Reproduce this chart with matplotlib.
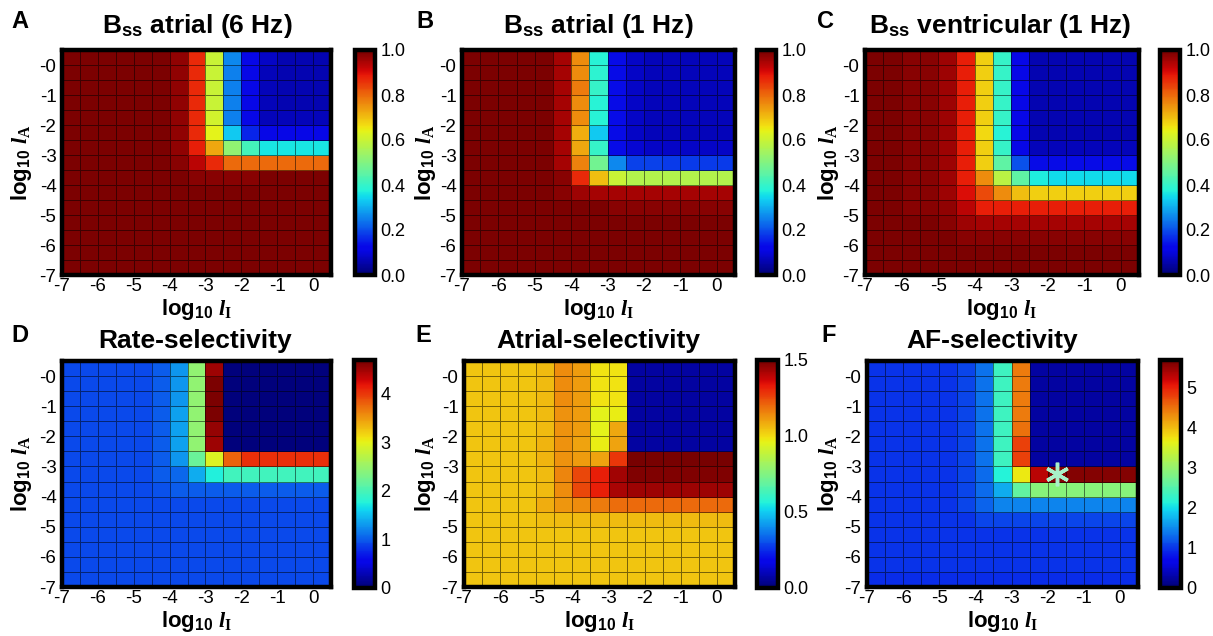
import numpy as np
import matplotlib.pyplot as plt
from matplotlib.colors import ListedColormap

plt.rcParams['font.family'] = ['Liberation Sans', 'DejaVu Sans']
plt.rcParams['mathtext.fontset'] = 'custom'
plt.rcParams['mathtext.bf'] = 'Liberation Sans:bold'
plt.rcParams['mathtext.it'] = 'Liberation Serif:italic:bold'
plt.rcParams['mathtext.rm'] = 'Liberation Serif:bold'

W, H = 1213, 636

# cell edges: log10 lI (x) and log10 lA (y)
x_edges = np.arange(-7, 0.51, 0.5)
y_edges = np.arange(-7, 0.51, 0.5)
x_ticks = [-7, -6, -5, -4, -3, -2, -1, 0]
x_ticklabels = ['-7', '-6', '-5', '-4', '-3', '-2', '-1', '0']
y_ticks = [0, -1, -2, -3, -4, -5, -6, -7]
y_ticklabels = ['-0', '-1', '-2', '-3', '-4', '-5', '-6', '-7']

# each matrix: rows from top (log10 lA = 0.5) to bottom (-7), columns from -7 to 0.5
bss_atrial_6hz = [
    [.99, .99, .99, .99, .99, .99, .97, .87, .60, .26, .12, .08, .06, .06, .06],
    [.99, .99, .99, .99, .99, .99, .97, .87, .60, .25, .12, .07, .06, .06, .06],
    [.99, .99, .99, .99, .99, .99, .97, .87, .60, .25, .12, .07, .06, .06, .06],
    [.99, .99, .99, .99, .99, .99, .97, .87, .60, .25, .12, .07, .06, .06, .06],
    [.99, .99, .99, .99, .99, .99, .97, .87, .61, .25, .12, .07, .07, .07, .07],
    [.99, .99, .99, .99, .99, .99, .97, .87, .64, .33, .16, .12, .12, .12, .12],
    [.99, .99, .99, .99, .99, .99, .97, .88, .73, .52, .42, .36, .36, .36, .36],
    [.99, .99, .99, .99, .99, .99, .98, .93, .87, .80, .80, .80, .80, .80, .80],
    [.99, .99, .99, .99, .99, .99, .99, .98, .98, .98, .98, .99, .99, .99, .99],
    [.99, .99, .99, .99, .99, .99, .99, .99, .99, .99, .99, .99, .99, .99, .99],
    [.99, .99, .99, .99, .99, .99, .99, .99, .99, .99, .99, .99, .99, .99, .99],
    [.99, .99, .99, .99, .99, .99, .99, .99, .99, .99, .99, .99, .99, .99, .99],
    [.99, .99, .99, .99, .99, .99, .99, .99, .99, .99, .99, .99, .99, .99, .99],
    [.99, .99, .99, .99, .99, .99, .99, .99, .99, .99, .99, .99, .99, .99, .99],
    [.99, .99, .99, .99, .99, .99, .99, .99, .99, .99, .99, .99, .99, .99, .99],
]

bss_atrial_1hz = [
    [.99, .99, .99, .99, .99, .95, .76, .38, .13, .08, .07, .07, .07, .07, .07],
    [.99, .99, .99, .99, .99, .95, .76, .39, .13, .08, .07, .07, .07, .07, .07],
    [.99, .99, .99, .99, .99, .95, .78, .40, .13, .08, .07, .07, .07, .07, .07],
    [.99, .99, .99, .99, .99, .95, .76, .38, .13, .08, .07, .07, .07, .07, .07],
    [.99, .99, .99, .99, .99, .95, .76, .38, .13, .08, .07, .07, .07, .07, .07],
    [.99, .99, .99, .99, .99, .95, .72, .33, .13, .08, .07, .07, .07, .07, .07],
    [.99, .99, .99, .99, .99, .95, .73, .40, .13, .09, .08, .08, .08, .08, .08],
    [.99, .99, .99, .99, .99, .95, .77, .48, .26, .19, .19, .18, .18, .18, .18],
    [.99, .99, .99, .99, .99, .98, .87, .70, .60, .57, .57, .57, .57, .57, .57],
    [.99, .99, .99, .99, .99, .98, .96, .95, .95, .95, .95, .95, .95, .95, .95],
    [.99, .99, .99, .99, .99, .99, .99, .99, .98, .98, .98, .98, .98, .98, .98],
    [.99, .99, .99, .99, .99, .99, .99, .99, .99, .99, .99, .99, .99, .99, .99],
    [.99, .99, .99, .99, .99, .99, .99, .99, .99, .99, .99, .99, .99, .99, .99],
    [.99, .99, .99, .99, .99, .99, .99, .99, .99, .99, .99, .99, .99, .99, .99],
    [.99, .99, .99, .99, .99, .99, .99, .99, .99, .99, .99, .99, .99, .99, .99],
]

bss_ventricular_1hz = [
    [.99, .99, .98, .98, .96, .88, .68, .40, .12, .06, .06, .06, .06, .06, .06],
    [.99, .99, .98, .98, .96, .88, .68, .40, .12, .06, .06, .06, .06, .06, .06],
    [.99, .99, .98, .98, .96, .88, .68, .40, .12, .06, .06, .06, .06, .06, .06],
    [.99, .99, .98, .98, .96, .88, .68, .40, .12, .06, .06, .06, .06, .06, .06],
    [.99, .99, .98, .98, .96, .88, .68, .40, .12, .06, .06, .06, .06, .06, .06],
    [.99, .99, .98, .98, .96, .88, .67, .38, .12, .06, .06, .06, .06, .06, .06],
    [.99, .99, .98, .98, .96, .88, .68, .40, .12, .07, .07, .07, .07, .07, .07],
    [.99, .99, .98, .98, .96, .88, .68, .45, .20, .13, .13, .13, .13, .13, .13],
    [.99, .99, .98, .98, .96, .88, .76, .58, .45, .37, .35, .35, .35, .35, .35],
    [.99, .99, .98, .98, .96, .90, .83, .76, .70, .68, .68, .68, .68, .68, .68],
    [.99, .99, .98, .98, .97, .93, .88, .88, .88, .88, .88, .88, .88, .88, .88],
    [.99, .99, .99, .99, .98, .96, .95, .95, .95, .95, .95, .95, .95, .95, .95],
    [.99, .99, .99, .99, .99, .98, .98, .98, .98, .98, .98, .98, .98, .98, .98],
    [.99, .99, .99, .99, .99, .99, .99, .99, .99, .99, .99, .99, .99, .99, .99],
    [.99, .99, .99, .99, .99, .99, .99, .99, .99, .99, .99, .99, .99, .99, .99],
]

rate_selectivity = [
    [.93, .93, .93, .93, .93, 1.0, 1.3, 2.45, 4.5, .05, .05, .05, .05, .05, .05],
    [.93, .93, .93, .93, .93, 1.0, 1.3, 2.45, 4.65, .05, .05, .05, .05, .05, .05],
    [.93, .93, .93, .93, .93, 1.0, 1.3, 2.45, 4.65, .05, .05, .05, .05, .05, .05],
    [.93, .93, .93, .93, .93, 1.0, 1.35, 2.45, 4.65, .05, .05, .05, .05, .05, .05],
    [.93, .93, .93, .93, .93, 1.0, 1.35, 2.45, 4.55, .05, .05, .05, .05, .05, .05],
    [.93, .93, .93, .93, .93, 1.0, 1.35, 2.45, 4.5, .05, .05, .05, .05, .05, .05],
    [.93, .93, .93, .93, .93, 1.0, 1.3, 2.2, 2.95, 3.8, 4.05, 4.05, 4.05, 4.05, 4.05],
    [.93, .93, .93, .93, .93, 1.0, 1.05, 1.4, 1.75, 1.95, 1.95, 1.95, 1.95, 1.95, 1.95],
    [.93, .93, .93, .93, .93, .95, 1.0, 1.0, 1.0, 1.0, 1.0, 1.0, 1.0, 1.0, 1.0],
    [.93, .93, .93, .93, .93, .93, .93, .93, .93, .93, .93, .93, .93, .93, .93],
    [.93, .93, .93, .93, .93, .93, .93, .93, .93, .93, .93, .93, .93, .93, .93],
    [.93, .93, .93, .93, .93, .93, .93, .93, .93, .93, .93, .93, .93, .93, .93],
    [.93, .93, .93, .93, .93, .93, .93, .93, .93, .93, .93, .93, .93, .93, .93],
    [.93, .93, .93, .93, .93, .93, .93, .93, .93, .93, .93, .93, .93, .93, .93],
    [.93, .93, .93, .93, .93, .93, .93, .93, .93, .93, .93, .93, .93, .93, .93],
]

atrial_selectivity = [
    [1.04, 1.04, 1.04, 1.04, 1.06, 1.14, 1.11, .99, .99, .07, .07, .07, .07, .07, .07],
    [1.04, 1.04, 1.04, 1.04, 1.06, 1.14, 1.11, .99, .99, .07, .07, .07, .07, .07, .07],
    [1.04, 1.04, 1.04, 1.04, 1.06, 1.14, 1.11, .99, .99, .07, .07, .07, .07, .07, .07],
    [1.04, 1.04, 1.04, 1.04, 1.06, 1.13, 1.11, .96, .97, .07, .07, .07, .07, .07, .07],
    [1.04, 1.04, 1.04, 1.04, 1.06, 1.13, 1.11, .96, 1.09, .07, .07, .07, .07, .07, .07],
    [1.04, 1.04, 1.04, 1.04, 1.07, 1.13, 1.10, .97, 1.10, .07, .07, .07, .07, .07, .07],
    [1.04, 1.04, 1.04, 1.04, 1.07, 1.13, 1.11, 1.10, 1.28, 1.49, 1.49, 1.49, 1.49, 1.49, 1.49],
    [1.04, 1.04, 1.04, 1.04, 1.06, 1.15, 1.25, 1.32, 1.43, 1.48, 1.48, 1.48, 1.48, 1.48, 1.48],
    [1.04, 1.04, 1.04, 1.04, 1.06, 1.14, 1.25, 1.32, 1.42, 1.44, 1.44, 1.44, 1.44, 1.44, 1.44],
    [1.04, 1.04, 1.04, 1.04, 1.08, 1.12, 1.14, 1.17, 1.19, 1.20, 1.20, 1.20, 1.20, 1.20, 1.20],
    [1.04, 1.04, 1.04, 1.04, 1.05, 1.06, 1.06, 1.06, 1.06, 1.06, 1.06, 1.06, 1.06, 1.06, 1.06],
    [1.04, 1.04, 1.04, 1.04, 1.04, 1.04, 1.04, 1.04, 1.04, 1.04, 1.04, 1.04, 1.04, 1.04, 1.04],
    [1.04, 1.04, 1.04, 1.04, 1.04, 1.04, 1.04, 1.04, 1.04, 1.04, 1.04, 1.04, 1.04, 1.04, 1.04],
    [1.04, 1.04, 1.04, 1.04, 1.04, 1.04, 1.04, 1.04, 1.04, 1.04, 1.04, 1.04, 1.04, 1.04, 1.04],
    [1.04, 1.04, 1.04, 1.04, 1.04, 1.04, 1.04, 1.04, 1.04, 1.04, 1.04, 1.04, 1.04, 1.04, 1.04],
]

af_selectivity = [
    [1.0, 1.0, 1.0, 1.0, 1.0, 1.1, 1.35, 2.35, 4.45, .25, .25, .25, .25, .25, .25],
    [1.0, 1.0, 1.0, 1.0, 1.0, 1.1, 1.35, 2.35, 4.45, .25, .25, .25, .25, .25, .25],
    [1.0, 1.0, 1.0, 1.0, 1.0, 1.1, 1.35, 2.35, 4.45, .25, .25, .25, .25, .25, .25],
    [1.0, 1.0, 1.0, 1.0, 1.0, 1.1, 1.35, 2.35, 4.45, .25, .25, .25, .25, .25, .25],
    [1.0, 1.0, 1.0, 1.0, 1.0, 1.1, 1.35, 2.35, 4.5, .25, .25, .25, .25, .25, .25],
    [1.0, 1.0, 1.0, 1.0, 1.0, 1.1, 1.35, 2.35, 4.8, .25, .25, .25, .25, .25, .25],
    [1.0, 1.0, 1.0, 1.0, 1.0, 1.1, 1.35, 2.35, 4.8, .25, .25, .25, .25, .25, .25],
    [1.0, 1.0, 1.0, 1.0, 1.0, 1.1, 1.3, 2.15, 3.7, 5.3, 5.6, 5.6, 5.6, 5.6, 5.6],
    [1.0, 1.0, 1.0, 1.0, 1.0, 1.1, 1.3, 1.7, 2.6, 2.9, 2.9, 2.9, 2.9, 2.9, 2.9],
    [1.0, 1.0, 1.0, 1.0, 1.0, 1.1, 1.25, 1.45, 1.45, 1.45, 1.45, 1.45, 1.45, 1.45, 1.45],
    [1.0, 1.0, 1.0, 1.0, 1.0, 1.0, 1.1, 1.1, 1.1, 1.1, 1.1, 1.1, 1.1, 1.1, 1.1],
    [1.0, 1.0, 1.0, 1.0, 1.0, 1.0, 1.0, 1.0, 1.0, 1.0, 1.0, 1.0, 1.0, 1.0, 1.0],
    [1.0, 1.0, 1.0, 1.0, 1.0, 1.0, 1.0, 1.0, 1.0, 1.0, 1.0, 1.0, 1.0, 1.0, 1.0],
    [1.0, 1.0, 1.0, 1.0, 1.0, 1.0, 1.0, 1.0, 1.0, 1.0, 1.0, 1.0, 1.0, 1.0, 1.0],
    [.95, .95, .95, .95, .95, .95, .95, .95, .95, .95, .95, .95, .95, .95, .95],
]
af_marker = (-1.75, -3.25)

titles = ['B$_{\\mathbf{ss}}$ atrial (6 Hz)', 'B$_{\\mathbf{ss}}$ atrial (1 Hz)',
          'B$_{\\mathbf{ss}}$ ventricular (1 Hz)', 'Rate-selectivity',
          'Atrial-selectivity', 'AF-selectivity']
letters = ['A', 'B', 'C', 'D', 'E', 'F']
datasets = [bss_atrial_6hz, bss_atrial_1hz, bss_ventricular_1hz,
            rate_selectivity, atrial_selectivity, af_selectivity]
vmaxes = [1.0, 1.0, 1.0, 4.7, 1.5, 5.7]
cbar_ticks = [[0, .2, .4, .6, .8, 1.0]] * 3 + [[0, 1, 2, 3, 4], [0, .5, 1.0, 1.5], [0, 1, 2, 3, 4, 5]]
cbar_labels = [['0.0', '0.2', '0.4', '0.6', '0.8', '1.0']] * 3 + \
    [['0', '1', '2', '3', '4'], ['0.0', '0.5', '1.0', '1.5'], ['0', '1', '2', '3', '4', '5']]

# layout in pixels (left, top, right, bottom)
heat_px = [(62, 50, 331, 275), (462, 50, 735, 275), (865, 50, 1139, 275),
           (62, 361, 331, 587), (464, 361, 735, 587), (867, 361, 1138, 587)]
cbar_px = [(355, 50, 375, 275), (757, 50, 776, 275), (1160, 50, 1180, 275),
           (354, 360, 375, 588), (757, 360, 778, 588), (1160, 360, 1181, 588)]
title_xy = [(197, 33), (598, 33), (1000, 33), (195, 348), (598, 348), (992, 348)]
letter_xy = [(20, 22), (425, 22), (826, 22), (20, 336), (423, 336), (829, 336)]
ylab_x = [22, 425, 828, 22, 425, 828]

# slightly muted jet, like the printed figure
jet = plt.get_cmap('jet')(np.linspace(0, 1, 256))[:, :3]
grey = jet.mean(axis=1, keepdims=True)
muted = ListedColormap(0.86 * jet + 0.14 * grey - 0.02 * (jet < 0.3))


def frac(l, t, r, b):
    return [l / W, 1 - b / H, (r - l) / W, (b - t) / H]


fig = plt.figure(figsize=(W / 100, H / 100), dpi=100)

for i in range(6):
    ax = fig.add_axes(frac(*heat_px[i]))
    data = np.flipud(np.array(datasets[i]))
    mesh = ax.pcolormesh(x_edges, y_edges, data, cmap=muted, vmin=0, vmax=vmaxes[i],
                         edgecolors=(0, 0, 0, 0.5), linewidth=0.7)
    ax.set_xlim(-7, 0.5)
    ax.set_ylim(-7, 0.5)
    ax.set_xticks(x_ticks)
    ax.set_xticklabels(x_ticklabels)
    ax.set_yticks(y_ticks)
    ax.set_yticklabels(y_ticklabels)
    ax.tick_params(axis='x', length=0, labelsize=13.5, pad=2)
    ax.tick_params(axis='y', length=0, labelsize=13.5, pad=4)
    for s in ax.spines.values():
        s.set_linewidth(3.2)

    cax = fig.add_axes(frac(*cbar_px[i]))
    cb = fig.colorbar(mesh, cax=cax, ticks=cbar_ticks[i])
    cb.ax.set_yticklabels(cbar_labels[i])
    cb.outline.set_linewidth(3.2)
    cax.tick_params(length=0, labelsize=13, pad=4)

    l, t, r, b = heat_px[i]
    cx = (l + r) / 2
    fig.text(title_xy[i][0] / W, 1 - title_xy[i][1] / H, titles[i], fontsize=19,
             fontweight='bold', ha='center', va='baseline')
    fig.text(letter_xy[i][0] / W, 1 - letter_xy[i][1] / H, letters[i], fontsize=17,
             fontweight='bold', ha='center', va='center')
    fig.text(cx / W, 1 - (b + 35) / H, 'log$_{\\mathbf{10}}$ $l_{\\mathrm{I}}$', fontsize=16,
             fontweight='bold', ha='center', va='center')
    fig.text(ylab_x[i] / W, 1 - ((t + b) / 2) / H, 'log$_{\\mathbf{10}}$ $l_{\\mathrm{A}}$',
             fontsize=16, fontweight='bold', ha='center', va='center', rotation=90)

    if i == 5:
        ax.plot(*af_marker, marker=(6, 2, 0), markersize=17, markeredgewidth=2.5,
                color='#a8f0c8', linestyle='none')

fig.savefig('out.png', dpi=100)
